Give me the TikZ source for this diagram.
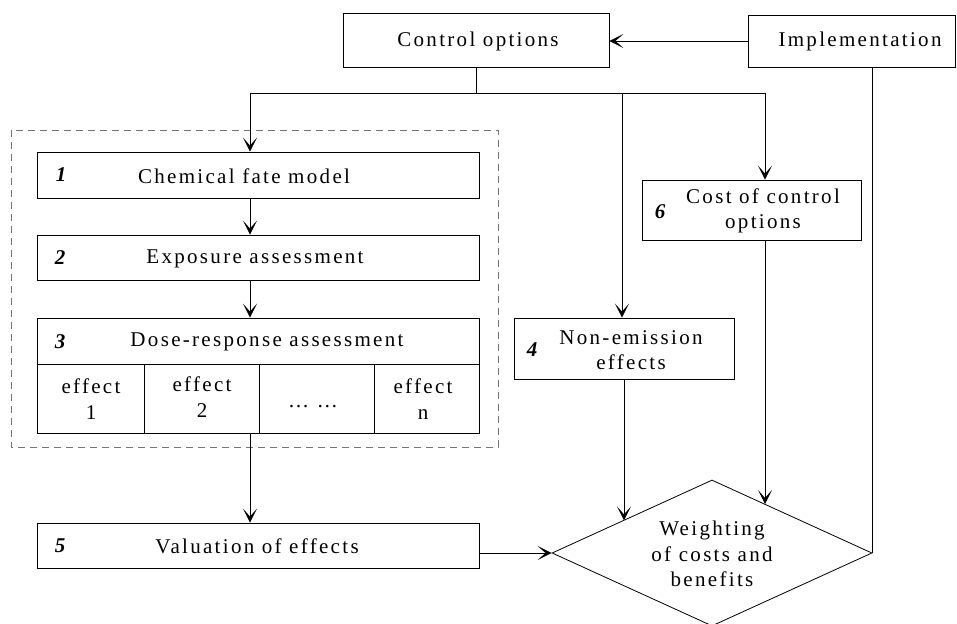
\documentclass[tikz,border=0pt]{standalone}
\usepackage{fontspec}
\setmainfont{Liberation Serif}[LetterSpace=11]
\usetikzlibrary{arrows.meta,shapes.geometric}
\begin{document}
\begin{tikzpicture}[x=1pt,y=-1pt,
  box/.style={draw,line width=0.8pt,inner sep=0pt},
  lbl/.style={inner sep=0pt,align=center,font=\fontsize{21}{25.5}\selectfont},
  num/.style={inner sep=0pt,font=\fontsize{21}{25}\selectfont\bfseries\itshape},
  conn/.style={line width=0.8pt},
  arr/.style={conn,-{Stealth[length=14pt,width=14pt,inset=8pt]}},
  dashbox/.style={draw=black!55,line width=1pt,dash pattern=on 7pt off 5pt}
]
\useasboundingbox (0,0) rectangle (957,623);

% dashed group
\draw[dashbox] (11,130) rectangle (498,447);

% boxes
\node[box,minimum width=266pt,minimum height=54pt] (ctrl) at (476,40) {};
\node[box,minimum width=207pt,minimum height=52pt] (impl) at (851.5,41) {};
\node[box,minimum width=442pt,minimum height=46pt] (b1) at (258,175) {};
\node[box,minimum width=442pt,minimum height=45pt] (b2) at (258,257.5) {};
\node[box,minimum width=442pt,minimum height=46pt] (b3) at (258,341) {};
\node[box,minimum width=107pt,minimum height=69pt] (e1) at (90.5,398.5) {};
\node[box,minimum width=115pt,minimum height=69pt] (e2) at (201.5,398.5) {};
\node[box,minimum width=115pt,minimum height=69pt] (e3) at (316.5,398.5) {};
\node[box,minimum width=105pt,minimum height=69pt] (e4) at (426.5,398.5) {};
\node[box,minimum width=442pt,minimum height=45pt] (b5) at (258,545.5) {};
\node[box,minimum width=219pt,minimum height=60pt] (b6) at (751.5,210) {};
\node[box,minimum width=220pt,minimum height=61pt] (b4) at (624,348.5) {};
\node[box,diamond,aspect=2.19,minimum width=320pt,minimum height=146pt] (dia) at (712,553) {};

% texts
\node[lbl] (tctrl) at (478,41) {Control options};
\node[lbl] (timpl) at (860,41) {Implementation};
\node[lbl] (t1) at (244,176) {Chemical fate model};
\node[lbl] (t2) at (255,258.5) {Exposure assessment};
\node[lbl] (t3) at (267,342) {Dose-response assessment};
\node[lbl] (te1) at (91,399) {effect\\1};
\node[lbl] (te2) at (202,397) {effect\\2};
\node[lbl] (te3) at (313,407) {… …};
\node[lbl] (te4) at (423,399) {effect\\n};
\node[lbl] (t5) at (257,546.5) {Valuation of effects};
\node[lbl] (t6) at (763,211) {Cost of control\\options};
\node[lbl] (t4) at (631,350) {Non-emission\\effects};
\node[lbl] (tw) at (712,554) {Weighting\\of costs and\\benefits};

\node[num] (n1) at (61,175) {1};
\node[num] (n2) at (60,258) {2};
\node[num] (n3) at (60,342) {3};
\node[num] (n5) at (60,546) {5};
\node[num] (n6) at (660,212) {6};
\node[num] (n4) at (532,350) {4};

% connectors
\coordinate (hl) at (250,93);
\coordinate (hs) at (476,93);
\coordinate (hm) at (622,93);
\coordinate (hr) at (765,93);
\coordinate (d4) at (624,520.4);
\coordinate (d6) at (765,504);

\draw[arr] (impl.west) -- (impl.west -| ctrl.east);
\draw[conn] (ctrl.south) -- (hs);
\draw[conn] (hl) -- (hr);
\draw[arr] (hl) -- (b1.north -| hl);
\draw[arr] (b1.south -| hl) -- (b2.north -| hl);
\draw[arr] (b2.south -| hl) -- (b3.north -| hl);
\draw[arr] (e2.south -| hl) -- (b5.north -| hl);
\draw[arr] (hm) -- (b4.north -| hm);
\draw[arr] (hr) -- (b6.north -| hr);
\draw[arr] (b4.south) -- (d4);
\draw[arr] (b6.south -| hr) -- (d6);
\draw[arr] (dia.west -| b5.east) -- (dia.west);
\draw[conn] (dia.east |- impl.south) -- (dia.east);
\end{tikzpicture}
\end{document}
